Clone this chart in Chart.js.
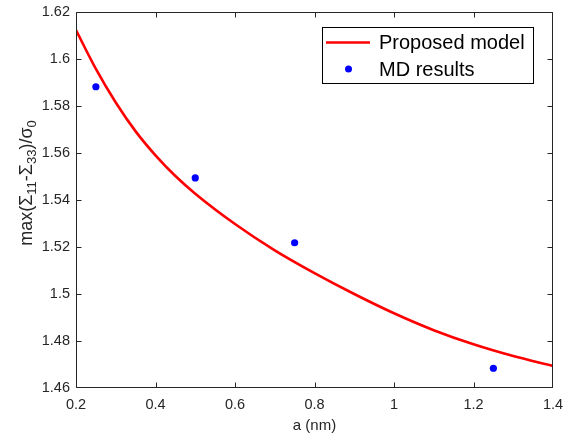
<!DOCTYPE html>
<html>
<head>
<meta charset="utf-8">
<script src="https://cdn.jsdelivr.net/npm/chart.js@4.4.0/dist/chart.umd.min.js"></script>
<style>
html,body{margin:0;padding:0;background:#ffffff;}
#wrap{width:564px;height:440px;}
</style>
</head>
<body>
<div id="wrap"><canvas id="c" width="564" height="440"></canvas></div>
<script>
// ---- data ----
const modelA      = [0.2, 0.25, 0.3, 0.35, 0.4, 0.45, 0.5, 0.6, 0.7, 0.8, 0.9, 1.0, 1.1, 1.2, 1.3, 1.4];
const modelStress = [1.6123, 1.5958, 1.5815, 1.5692, 1.5590, 1.5502, 1.5427, 1.5298, 1.5186, 1.5089, 1.5000, 1.4918, 1.4846, 1.4786, 1.4736, 1.4694];
const mdA         = [0.25, 0.5, 0.75, 1.25];
const mdStress    = [1.5882, 1.5494, 1.5218, 1.4684];
const xTickValues = [0.2, 0.4, 0.6, 0.8, 1.0, 1.2, 1.4];
const yTickValues = [1.46, 1.48, 1.50, 1.52, 1.54, 1.56, 1.58, 1.60, 1.62];
const seriesNames = ['Proposed model', 'MD results'];
const xTitle = 'a (nm)';
// y title pieces: [text, isSubscript]
const yTitleParts = [['max(', false], ['Σ', false], ['11', true], ['-Σ', false], ['33', true], [')/σ', false], ['0', true]];

const axisColor = '#262626';
const fontFam = '"Liberation Sans", Arial, Helvetica, sans-serif';

function fmt(v){ return String(Number(v.toFixed(2))); }

const framePlugin = {
  id: 'frame',
  afterDraw(chart) {
    const ctx = chart.ctx;
    const a = chart.chartArea;
    const xs = chart.scales.x, ys = chart.scales.y;
    ctx.save();
    ctx.strokeStyle = axisColor;
    ctx.lineWidth = 1;
    const L = Math.round(a.left) + 0.5, R = Math.round(a.right) - 0.5;
    const T = Math.round(a.top) + 0.5, B = Math.round(a.bottom) - 0.5;
    ctx.beginPath();
    ctx.rect(L, T, R - L, B - T);
    ctx.stroke();
    const tl = 5;
    ctx.beginPath();
    xs.ticks.forEach(t => {
      let px = Math.round(xs.getPixelForValue(t.value)) + 0.5;
      px = Math.min(Math.max(px, L), R);
      ctx.moveTo(px, B); ctx.lineTo(px, B - tl);
      ctx.moveTo(px, T); ctx.lineTo(px, T + tl);
    });
    ys.ticks.forEach(t => {
      let py = Math.round(ys.getPixelForValue(t.value)) + 0.5;
      py = Math.min(Math.max(py, T), B);
      ctx.moveTo(L, py); ctx.lineTo(L + tl, py);
      ctx.moveTo(R, py); ctx.lineTo(R - tl, py);
    });
    ctx.stroke();

    // y axis title with subscripts
    const fs = 18, fsSub = 13;
    let total = 0;
    yTitleParts.forEach(([t, sub]) => {
      ctx.font = (sub ? fsSub : fs) + 'px ' + fontFam;
      total += ctx.measureText(t).width;
    });
    ctx.save();
    ctx.translate(32, 183);
    ctx.rotate(-Math.PI / 2);
    ctx.fillStyle = axisColor;
    ctx.textBaseline = 'alphabetic';
    ctx.textAlign = 'left';
    let xp = -total / 2;
    yTitleParts.forEach(([t, sub]) => {
      ctx.font = (sub ? fsSub : fs) + 'px ' + fontFam;
      ctx.fillText(t, xp, sub ? 4 : 0);
      xp += ctx.measureText(t).width;
    });
    ctx.restore();

    // legend box
    const bx = 322, by = 27, bw = 211, bh = 56;
    ctx.fillStyle = '#ffffff';
    ctx.fillRect(bx, by, bw, bh);
    ctx.strokeStyle = '#000000';
    ctx.lineWidth = 1;
    ctx.strokeRect(bx + 0.5, by + 0.5, bw, bh);
    const ds = chart.data.datasets;
    ctx.font = '20px ' + fontFam;
    ctx.textBaseline = 'middle';
    ctx.textAlign = 'left';
    const r1 = by + 15.5, r2 = by + 42;
    ctx.strokeStyle = ds[0].borderColor;
    ctx.lineWidth = 2.5;
    ctx.beginPath();
    ctx.moveTo(326, r1); ctx.lineTo(370, r1);
    ctx.stroke();
    ctx.fillStyle = '#000000';
    ctx.fillText(ds[0].label, 379, r1 + 1);
    ctx.fillStyle = ds[1].backgroundColor;
    ctx.beginPath();
    ctx.arc(348.5, r2, 3.5, 0, Math.PI * 2);
    ctx.fill();
    ctx.fillStyle = '#000000';
    ctx.fillText(ds[1].label, 379, r2 + 1);
    ctx.restore();
  }
};

new Chart(document.getElementById('c'), {
  type: 'line',
  data: {
    datasets: [
      {
        type: 'line',
        label: seriesNames[0],
        data: modelA.map((x, i) => ({x: x, y: modelStress[i]})),
        borderColor: '#ff0000',
        backgroundColor: '#ff0000',
        borderWidth: 2.6,
        pointRadius: 0,
        cubicInterpolationMode: 'monotone',
        fill: false,
        order: 2
      },
      {
        type: 'scatter',
        label: seriesNames[1],
        data: mdA.map((x, i) => ({x: x, y: mdStress[i]})),
        borderColor: '#0000ff',
        backgroundColor: '#0000ff',
        pointRadius: 3.6,
        pointBorderWidth: 0,
        showLine: false,
        order: 1
      }
    ]
  },
  options: {
    responsive: false,
    animation: false,
    devicePixelRatio: 1,
    layout: { padding: { left: 0, right: 11, top: 12, bottom: 0 } },
    plugins: {
      legend: { display: false },
      tooltip: { enabled: false },
      title: { display: false }
    },
    scales: {
      x: {
        type: 'linear',
        min: 0.2, max: 1.4,
        afterBuildTicks: s => { s.ticks = xTickValues.map(v => ({value: v})); },
        afterFit: s => { s.height = 52; s.paddingLeft = 0; s.paddingRight = 0; },
        grid: { display: false, drawTicks: false },
        border: { display: false },
        ticks: {
          autoSkip: false, maxRotation: 0, padding: 8,
          color: axisColor,
          font: { family: fontFam, size: 14.5 },
          callback: v => fmt(v)
        },
        title: {
          display: true, text: xTitle, color: axisColor,
          font: { family: fontFam, size: 15 },
          padding: { top: 0, bottom: 5 }
        }
      },
      y: {
        type: 'linear',
        min: 1.46, max: 1.62,
        afterBuildTicks: s => { s.ticks = yTickValues.map(v => ({value: v})); },
        afterFit: s => { s.width = 76; s.paddingTop = 0; s.paddingBottom = 0; },
        grid: { display: false, drawTicks: false },
        border: { display: false },
        ticks: {
          autoSkip: false, padding: 6,
          color: axisColor,
          font: { family: fontFam, size: 14.5 },
          callback: v => fmt(v)
        },
        title: { display: false }
      }
    }
  },
  plugins: [framePlugin]
});
</script>
</body>
</html>
